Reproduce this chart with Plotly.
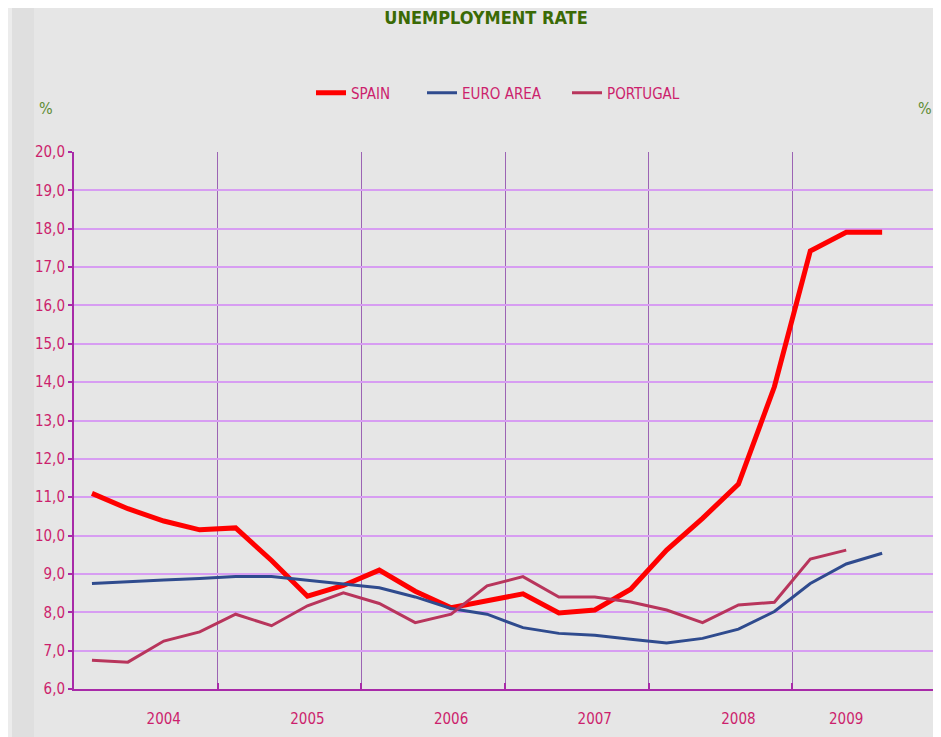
import plotly.graph_objects as go

# ---- data ----
quarters = ["2004 Q1", "2004 Q2", "2004 Q3", "2004 Q4",
            "2005 Q1", "2005 Q2", "2005 Q3", "2005 Q4",
            "2006 Q1", "2006 Q2", "2006 Q3", "2006 Q4",
            "2007 Q1", "2007 Q2", "2007 Q3", "2007 Q4",
            "2008 Q1", "2008 Q2", "2008 Q3", "2008 Q4",
            "2009 Q1", "2009 Q2", "2009 Q3", "2009 Q4"]

spain = [11.1, 10.7, 10.38, 10.15, 10.2, 9.35, 8.42, 8.7, 9.1, 8.55, 8.12, 8.3,
         8.48, 7.98, 8.06, 8.6, 9.62, 10.45, 11.34, 13.88, 17.42, 17.91, 17.91]
euro_area = [8.75, 8.8, 8.84, 8.88, 8.93, 8.93, 8.84, 8.74, 8.64, 8.4, 8.1, 7.95,
             7.6, 7.45, 7.4, 7.3, 7.2, 7.32, 7.56, 8.02, 8.75, 9.26, 9.54]
portugal = [6.75, 6.7, 7.25, 7.49, 7.95, 7.65, 8.17, 8.51, 8.23, 7.73, 7.95, 8.69,
            8.93, 8.4, 8.4, 8.27, 8.06, 7.73, 8.19, 8.26, 9.39, 9.62]

years = ["2004", "2005", "2006", "2007", "2008", "2009"]
year_label_idx = [2, 6, 10, 14, 18, 21]
year_boundaries = [3.5, 7.5, 11.5, 15.5, 19.5, 23.5]

x_pos = list(range(len(quarters)))

NARROW = "DejaVu Sans Condensed, Liberation Sans Narrow, Arial Narrow, sans-serif"
PINK = "#cc1f6d"
MAGENTA = "#a82aa8"
GREEN_PCT = "#5e8c34"

# page body has an 8px margin: figure is sized so it ends at the window edge
W, H = 933, 729
L, R, T, B = 66, 5, 144, 48
PW, PH = W - L - R, H - T - B

series = [
    ("SPAIN", spain, "#ff0000", 5, "legend", 308),
    ("EURO AREA", euro_area, "#2f4b8e", 3, "legend2", 419),
    ("PORTUGAL", portugal, "#b8355c", 3, "legend3", 564),
]

fig = go.Figure()
legend_layout = {}
for name, vals, color, width, leg, item_px in series:
    fig.add_trace(go.Scatter(x=x_pos[:len(vals)], y=vals, name=name, mode="lines",
                             line=dict(color=color, width=width), legend=leg,
                             customdata=quarters[:len(vals)],
                             hovertemplate="%{customdata}: %{y}<extra>" + name + "</extra>"))
    legend_layout[leg] = dict(orientation="h", x=(item_px - 5 - L) / PW, xanchor="left",
                              y=(T + PH - 85) / PH, yanchor="middle",
                              bgcolor="rgba(0,0,0,0)", borderwidth=0,
                              font=dict(family=NARROW, size=15, color=PINK),
                              itemwidth=30)

fig.update_layout(
    width=W, height=H,
    margin=dict(l=L, r=R, t=T, b=B),
    paper_bgcolor="#e6e6e6", plot_bgcolor="#e6e6e6",
    separators=",.",
    font=dict(family=NARROW, size=15, color=PINK),
    title=dict(text="<b>UNEMPLOYMENT RATE</b>", x=478 / W, xanchor="center",
               y=1 - 10 / H, yanchor="middle",
               font=dict(family=NARROW, size=18, color="#3b6a05")),
    showlegend=True,
    xaxis=dict(range=[-0.5, 23.5], tickmode="array", tickvals=year_label_idx, ticktext=years,
               ticks="", showgrid=False, zeroline=False,
               showline=True, linecolor=MAGENTA, linewidth=2,
               ticklabelstandoff=15, tickfont=dict(family=NARROW, size=15, color=PINK),
               minor=dict(tickmode="array", tickvals=year_boundaries, ticks="inside",
                          ticklen=6, tickwidth=2, tickcolor=MAGENTA,
                          showgrid=True, gridcolor="#9c64b4", gridwidth=1)),
    yaxis=dict(range=[6, 20], dtick=1, tick0=6, tickformat=".1f",
               showgrid=True, gridcolor="#d79df2", gridwidth=2, zeroline=False,
               showline=True, linecolor=MAGENTA, linewidth=2,
               ticks="outside", ticklen=4, tickcolor=MAGENTA, tickwidth=2,
               tickfont=dict(family=NARROW, size=15, color=PINK)),
    **legend_layout,
)

# decorative side strips of the original slide
fig.add_shape(type="rect", xref="paper", yref="paper",
              x0=(0 - L) / PW, x1=(4 - L) / PW, y0=-B / PH, y1=(PH + T) / PH,
              fillcolor="#ececec", line_width=0, layer="below")
fig.add_shape(type="rect", xref="paper", yref="paper",
              x0=(4 - L) / PW, x1=(26 - L) / PW, y0=-B / PH, y1=(PH + T) / PH,
              fillcolor="#dfdfdf", line_width=0, layer="below")

for px in (38, 917):
    fig.add_annotation(text="%", xref="paper", yref="paper",
                       x=(px - L) / PW, y=(T + PH - 100) / PH,
                       xanchor="center", yanchor="middle",
                       showarrow=False, font=dict(family=NARROW, size=16, color=GREEN_PCT))

fig.write_html("out.html")
